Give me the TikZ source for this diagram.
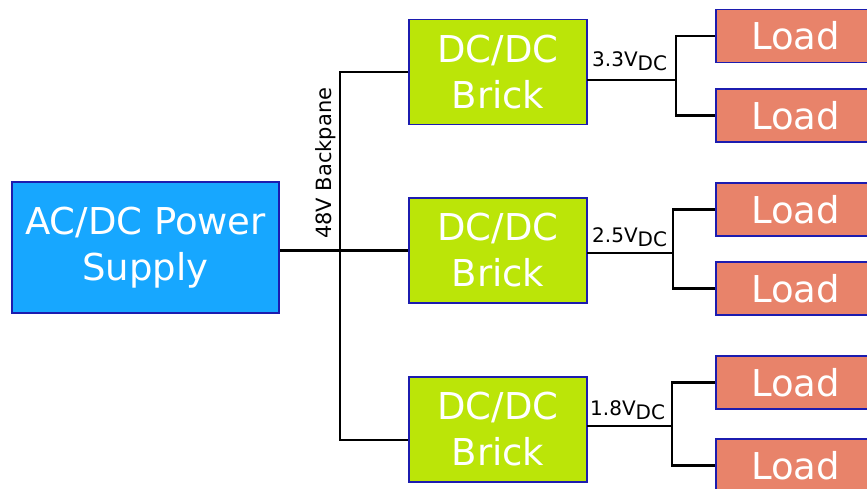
\documentclass[tikz,border=0pt]{standalone}
\usepackage{fontspec}
\setmainfont{DejaVu Sans}
\usepackage{tikz}
\usetikzlibrary{positioning}

\definecolor{psublue}{RGB}{23,167,255}
\definecolor{brickgreen}{RGB}{187,229,8}
\definecolor{loadred}{RGB}{232,131,106}
\definecolor{edgeblue}{RGB}{28,28,175}

\begin{document}
\begin{tikzpicture}[x=1pt,y=-1pt,
 box/.style={draw=edgeblue,line width=1.8pt,inner sep=0pt,text=white,
 align=center,font=\fontsize{37}{46}\selectfont},
 psu/.style={box,fill=psublue,minimum width=267pt,minimum height=131pt},
 brick/.style={box,fill=brickgreen,minimum width=178pt,minimum height=105pt},
 load/.style={box,fill=loadred,minimum width=159pt,minimum height=53pt},
 wire/.style={draw=black,line width=2.4pt},
 volt/.style={font=\fontsize{20}{24}\selectfont,inner sep=0pt,anchor=base west}]
\useasboundingbox (0,0) rectangle (867,489);
% supply and bricks
\node[psu] (ps) at (145.5,247.5) {AC/DC Power~\\Supply};
\node[brick] (b1) at (498,72) {DC/DC\\Brick};
\node[brick] (b2) at (498,250.5) {DC/DC\\Brick};
\node[brick] (b3) at (498,429.5) {DC/DC\\Brick};
% loads
\node[load] (l1) at (795.5,36) {Load};
\node[load] (l2) at (795.5,115.5) {Load};
\node[load] (l3) at (795.5,209.5) {Load};
\node[load] (l4) at (795.5,288.5) {Load};
\node[load] (l5) at (795.5,382.5) {Load};
\node[load] (l6) at (795.5,465.5) {Load};
% backpane
\coordinate (bb) at (340,440);
\draw[wire] (b1.west) -| (bb) -- (bb -| b3.west);
\draw[wire] (ps.east |- b2.west) -- (b2.west);
\node[font=\fontsize{21}{24}\selectfont,inner sep=0pt,rotate=90,anchor=base west]
 (bp) at (331.5,239) {48V Backpane};
% outputs
\coordinate (o1) at (587,80);
\coordinate (o2) at (587,253);
\coordinate (o3) at (587,426);
\coordinate (j1) at (676,80);
\coordinate (j2) at (673,253);
\coordinate (j3) at (672,426);
\draw[wire] (o1) -- (j1);
\draw[wire] (o2) -- (j2);
\draw[wire] (o3) -- (j3);
\draw[wire] (l1.west) -| (j1) |- (l2.west);
\draw[wire] (l3.west) -| (j2) |- (l4.west);
\draw[wire] (l5.west) -| (j3) |- (l6.west);
\node[volt] (v1) at (592,67) {3.3V\raisebox{-4pt}{DC}};
\node[volt] (v2) at (592,242) {2.5V\raisebox{-4pt}{DC}};
\node[volt] (v3) at (590,415) {1.8V\raisebox{-4pt}{DC}};
\end{tikzpicture}
\end{document}
